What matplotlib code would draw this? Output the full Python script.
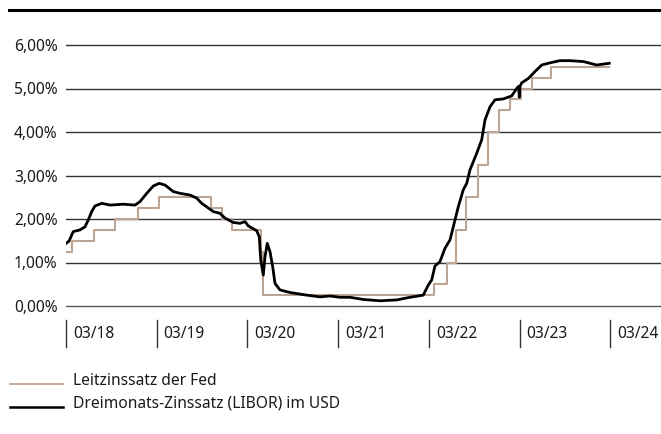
import matplotlib
matplotlib.use("Agg")
import matplotlib.pyplot as plt
from matplotlib.lines import Line2D
import matplotlib.transforms as mtransforms

# x values: years since March 2018 (tick 0 = 03/18)
fed_x = [0.000, 0.063, 0.312, 0.540, 0.794, 1.029, 1.599, 1.720, 1.830, 2.150,
         2.172, 4.057, 4.200, 4.300, 4.410, 4.540, 4.650, 4.774, 4.895, 5.017,
         5.138, 5.344, 5.987]
fed_y = [1.25, 1.50, 1.75, 2.00, 2.25, 2.50, 2.25, 2.00, 1.75, 1.25,
         0.25, 0.50, 1.00, 1.75, 2.50, 3.25, 4.00, 4.50, 4.75, 5.00,
         5.25, 5.50, 5.50]

libor_x = [0.000, 0.033, 0.080, 0.154, 0.209, 0.246, 0.283, 0.320, 0.394, 0.485,
           0.632, 0.761, 0.816, 0.890, 0.963, 1.029, 1.092, 1.183, 1.257, 1.367,
           1.441, 1.496, 1.551, 1.624, 1.698, 1.753, 1.845, 1.918, 1.974, 2.010,
           2.103, 2.131, 2.147, 2.175, 2.194, 2.219, 2.249, 2.279, 2.304, 2.359,
           2.470, 2.654, 2.800, 2.911, 3.021, 3.131, 3.278, 3.462, 3.646, 3.793,
           3.939, 3.994, 4.032, 4.068, 4.123, 4.179, 4.234, 4.289, 4.325, 4.380,
           4.418, 4.454, 4.528, 4.583, 4.620, 4.675, 4.730, 4.821, 4.914, 4.969,
           4.990, 4.998, 5.006, 5.024, 5.097, 5.171, 5.245, 5.336, 5.447, 5.557,
           5.703, 5.851, 5.990]
libor_y = [1.44, 1.49, 1.71, 1.75, 1.82, 1.98, 2.17, 2.30, 2.36, 2.32,
           2.34, 2.32, 2.40, 2.59, 2.76, 2.82, 2.78, 2.63, 2.59, 2.55,
           2.48, 2.36, 2.28, 2.17, 2.13, 2.02, 1.92, 1.90, 1.94, 1.84,
           1.73, 1.59, 1.06, 0.71, 1.13, 1.44, 1.25, 0.90, 0.52, 0.37,
           0.31, 0.25, 0.21, 0.23, 0.20, 0.20, 0.15, 0.12, 0.14, 0.20,
           0.25, 0.48, 0.60, 0.92, 1.02, 1.33, 1.52, 1.98, 2.28, 2.67,
           2.82, 3.13, 3.51, 3.82, 4.28, 4.58, 4.74, 4.76, 4.83, 5.00,
           5.05, 4.80, 5.05, 5.13, 5.23, 5.39, 5.54, 5.59, 5.64, 5.64,
           5.62, 5.54, 5.58]

x_ticks = [0, 1, 2, 3, 4, 5, 6]
x_labels = ["03/18", "03/19", "03/20", "03/21", "03/22", "03/23", "03/24"]
y_ticks = [0, 1, 2, 3, 4, 5, 6]
y_labels = ["0,00%", "1,00%", "2,00%", "3,00%", "4,00%", "5,00%", "6,00%"]

legend_labels = ["Leitzinssatz der Fed", "Dreimonats-Zinssatz (LIBOR) im USD"]

FED_COLOR = "#bca595"
FONT = "Noto Sans"
FS = 11.2
TXT = "#1a1a1a"

W, H = 661, 434
fig = plt.figure(figsize=(W / 100, H / 100), dpi=100)

# axes geometry in pixels
px_per_unit_y = 43.5
px_per_unit_x = 90.7
y0_px = 306
x0_px = 66
ymin, ymax = -0.3, 6.5
bottom_px = y0_px + (-ymin) * px_per_unit_y
top_px = y0_px - ymax * px_per_unit_y
xmax = (W - x0_px) / px_per_unit_x
ax = fig.add_axes([x0_px / W, (H - bottom_px) / H, 1 - x0_px / W, (bottom_px - top_px) / H])
ax.set_xlim(0, xmax)
ax.set_ylim(ymin, ymax)

for yt in y_ticks:
    ax.axhline(yt, color="#333333" if yt else "#555555", lw=1.0, zorder=1)

ax.step(fed_x, fed_y, where="post", color=FED_COLOR, lw=1.5, zorder=2)
ax.plot(libor_x, libor_y, color="black", lw=2.0, zorder=3, solid_joinstyle="round")

for s in ax.spines.values():
    s.set_visible(False)
ax.set_yticks(y_ticks)
ax.set_yticklabels(y_labels, fontsize=FS, family=FONT, color=TXT)
ax.tick_params(axis="y", length=0, pad=6)
ax.set_xticks([])

# x ticks below the axis
trans = mtransforms.blended_transform_factory(ax.transData, fig.transFigure)
for xt, lab in zip(x_ticks, x_labels):
    ax.add_line(Line2D([xt, xt], [(H - 320) / H, (H - 347) / H], transform=trans,
                       color="#333333", lw=1.0, clip_on=False))
    ax.text(xt + 7 / px_per_unit_x, (H - 334) / H, lab, transform=trans, ha="left",
            va="center", fontsize=FS, family=FONT, color=TXT)

# top rule
fig.add_artist(Line2D([9 / W, 1.0], [(H - 10) / H, (H - 10) / H], transform=fig.transFigure,
                      color="black", lw=2.2))

# legend
for i, (lab, col, lw) in enumerate(zip(legend_labels, [FED_COLOR, "black"], [1.3, 1.8])):
    ly = 384 + i * 23
    fig.add_artist(Line2D([10 / W, 63 / W], [(H - ly) / H, (H - ly) / H],
                          transform=fig.transFigure, color=col, lw=lw))
    fig.text(73 / W, (H - (ly - 3)) / H, lab, ha="left", va="center", fontsize=FS,
             family=FONT, color=TXT)

fig.savefig("out.png", dpi=100)
